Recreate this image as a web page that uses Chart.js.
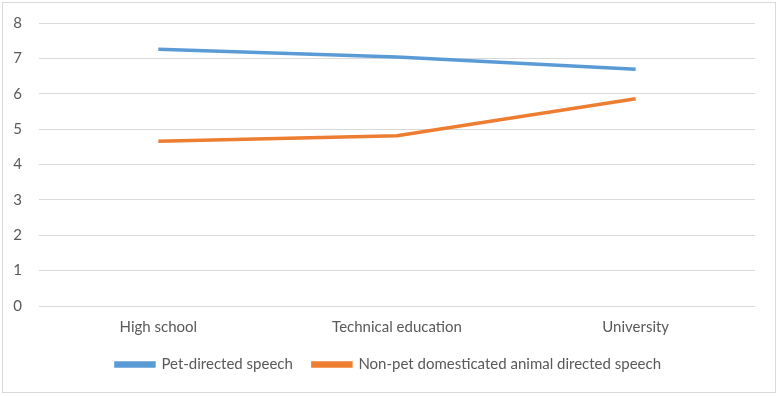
<!DOCTYPE html>
<html>
<head>
<meta charset="utf-8">
<script src="https://cdn.jsdelivr.net/npm/chart.js@4.4.1/dist/chart.umd.min.js"></script>
<style>
    body { margin: 0; background: #fff; }
    #frame { position: absolute; left: 2px; top: 2px; width: 772px; height: 389px; border: 1px solid #d9d9d9; }
    #myChart { position: absolute; left: 0; top: 0; }
</style>
</head>
<body>
<div id="frame"></div>
<canvas id="myChart" width="777" height="396"></canvas>
<script>
// Values
const categories = ['High school', 'Technical education', 'University'];
const petSpeech = [7.26, 7.04, 6.69];
const nonPetSpeech = [4.66, 4.81, 5.86];
const yTicks = [0, 1, 2, 3, 4, 5, 6, 7, 8];

const textColor = '#595959';
const fontFamily = 'Lato, "Liberation Sans", sans-serif';
const fontSize = 15;

const config = {
    type: 'line',
    data: {
        labels: categories,
        datasets: [
            {
                label: 'Pet-directed speech',
                data: petSpeech,
                borderColor: '#5b9bd5',
                backgroundColor: '#5b9bd5',
                borderWidth: 3.5,
                pointRadius: 0,
                tension: 0
            },
            {
                label: 'Non-pet domesticated animal directed speech',
                data: nonPetSpeech,
                borderColor: '#ed7d31',
                backgroundColor: '#ed7d31',
                borderWidth: 3.5,
                pointRadius: 0,
                tension: 0
            }
        ]
    },
    options: {
        responsive: false,
        animation: false,
        layout: {
            padding: { left: 0, right: 0, top: 23, bottom: 14 }
        },
        plugins: {
            tooltip: { enabled: false },
            legend: {
                position: 'bottom',
                labels: {
                    boxWidth: 38,
                    boxHeight: 3,
                    padding: 20,
                    color: textColor,
                    font: { family: fontFamily, size: fontSize }
                }
            }
        },
        scales: {
            x: {
                offset: true,
                grid: { display: false, drawTicks: false },
                border: { display: false },
                ticks: {
                    padding: 12,
                    color: textColor,
                    font: { family: fontFamily, size: fontSize }
                },
                afterFit: (scale) => { scale.height = 31; }
            },
            y: {
                min: 0,
                max: 8,
                afterBuildTicks: (scale) => { scale.ticks = yTicks.map(v => ({ value: v })); },
                // invisible tick marks make the gap, so ticks.padding doesn't push the plot down
                grid: { color: '#d9d9d9', tickLength: 17, tickColor: 'rgba(0,0,0,0)' },
                border: { display: false },
                ticks: {
                    padding: 0,
                    color: textColor,
                    font: { family: fontFamily, size: fontSize }
                },
                afterFit: (scale) => { scale.width = 39; }
            },
            // empty right-hand margin so the legend centres on the whole frame
            yRight: {
                position: 'right',
                display: true,
                grid: { display: false, drawTicks: false },
                border: { display: false },
                ticks: { display: false },
                afterFit: (scale) => { scale.width = 22; }
            }
        }
    }
};

const ctx = document.getElementById('myChart').getContext('2d');
const myChart = new Chart(ctx, config);
</script>
</body>
</html>
